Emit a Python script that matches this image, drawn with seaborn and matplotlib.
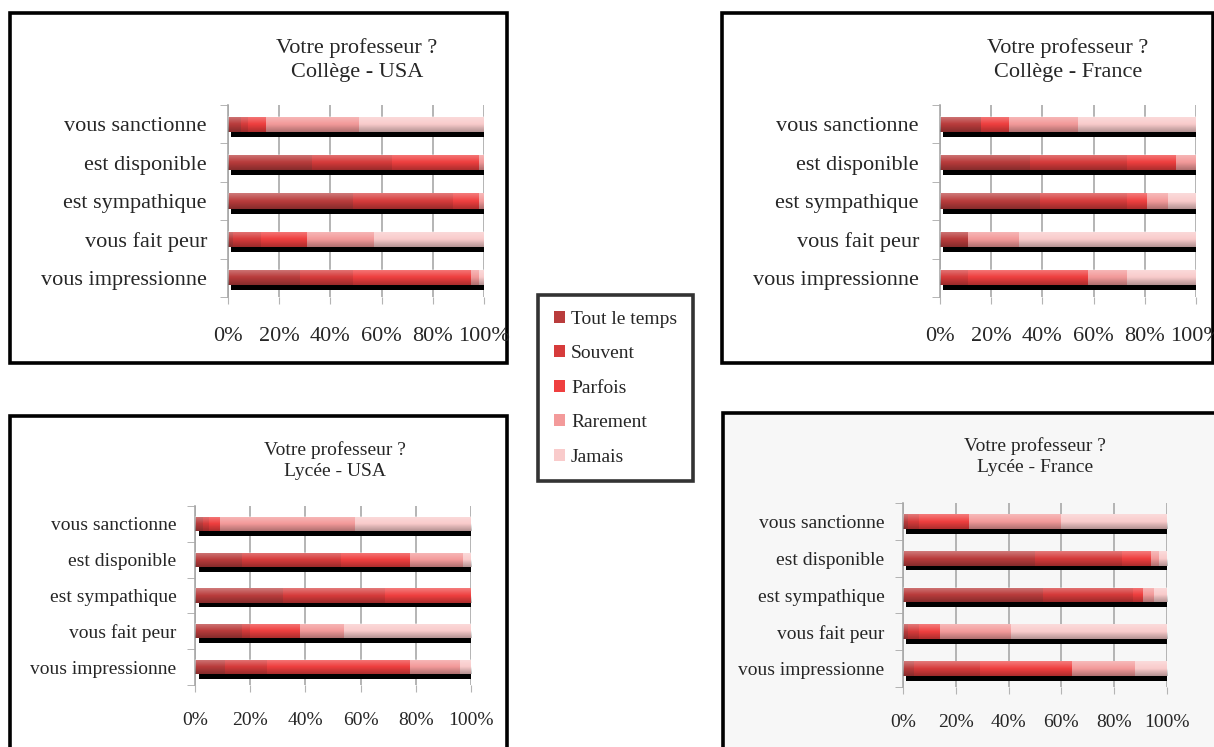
import numpy as np
import pandas as pd
import seaborn as sns
import matplotlib.pyplot as plt
from matplotlib.patches import Rectangle, Patch

W, H = 1214, 747

items = ["vous sanctionne", "est disponible", "est sympathique",
         "vous fait peur", "vous impressionne"]
levels = ["Tout le temps", "Souvent", "Parfois", "Rarement", "Jamais"]
colors = ["#b93c3c", "#d63b3b", "#ef3f3f", "#f39a9a", "#f9cbcb"]

# Collège - USA
cu_tout = [5, 33, 49, 2, 28]
cu_souvent = [3, 31, 39, 11, 21]
cu_parfois = [7, 34, 10, 18, 46]
cu_rarement = [36, 2, 2, 26, 3]
cu_jamais = [49, 0, 0, 43, 2]

# Collège - France
cf_tout = [16, 35, 39, 11, 0]
cf_souvent = [0, 38, 34, 0, 11]
cf_parfois = [11, 19, 8, 0, 47]
cf_rarement = [27, 8, 8, 20, 15]
cf_jamais = [46, 0, 11, 69, 27]

# Lycée - USA
lu_tout = [3, 17, 32, 17, 11]
lu_souvent = [2, 36, 37, 3, 15]
lu_parfois = [4, 25, 31, 18, 52]
lu_rarement = [49, 19, 0, 16, 18]
lu_jamais = [42, 3, 0, 46, 4]

# Lycée - France
lf_tout = [2, 50, 53, 2, 4]
lf_souvent = [4, 33, 34, 4, 25]
lf_parfois = [19, 11, 4, 8, 35]
lf_rarement = [35, 3, 4, 27, 24]
lf_jamais = [40, 3, 5, 59, 12]

sns.set_style("white")
plt.rcParams["font.family"] = ["Liberation Serif", "DejaVu Serif"]


def px_rect(x0, y0, x1, y1):
    return [x0 / W, 1 - y1 / H, (x1 - x0) / W, (y1 - y0) / H]


def frame(x0, y0, x1, y1, face="none"):
    fig.add_artist(Rectangle((x0 / W, 1 - y1 / H), (x1 - x0) / W, (y1 - y0) / H,
                             transform=fig.transFigure, facecolor=face,
                             edgecolor="black", lw=2.6, zorder=0))


def draw_panel(rect, title, tpos, values, fs, bg="white"):
    ax = fig.add_axes(px_rect(*rect))
    ax.set_facecolor(bg)
    df = pd.DataFrame(dict(zip(levels, values)))
    cum = df.cumsum(axis=1)
    cum["item"] = items
    for lev, col in reversed(list(zip(levels, colors))):
        sns.barplot(data=cum, x=lev, y="item", color=col, orient="h", width=0.4,
                    saturation=1, errorbar=None, linewidth=0, ax=ax, zorder=2)
    pos = np.arange(len(items))
    # drop shadow under each bar
    ax.barh(pos + 0.13, 100, left=1.3, height=0.4, color="black", lw=0, zorder=1.5)
    # light-to-dark sheen over each bar
    t = np.linspace(0, 1, 40)
    grad = np.zeros((40, 1, 4))
    grad[t < 0.5, 0, :3] = 1
    grad[:, 0, 3] = np.where(t < 0.5, 0.32 * (1 - 2 * t), 0.28 * (2 * t - 1))
    for p, total in zip(pos, cum["Jamais"]):
        ax.imshow(grad, extent=(0, total, p + 0.2, p - 0.2), origin="upper",
                  aspect="auto", interpolation="bilinear", zorder=3)
    ax.set_xlim(0, 100)
    ax.set_ylim(4.5, -0.5)
    ax.set_xlabel("")
    ax.set_ylabel("")
    ax.set_xticks(range(0, 101, 20))
    ax.set_xticklabels([f"{v}%" for v in range(0, 101, 20)])
    ax.set_yticks(np.arange(-0.5, 5, 1), minor=True)
    ax.xaxis.grid(True, color="#b4b4b4", lw=1.4)
    ax.set_axisbelow(True)
    for s in ["top", "right", "bottom"]:
        ax.spines[s].set_visible(False)
    ax.spines["left"].set_color("#a8a8a8")
    ax.spines["left"].set_linewidth(1.2)
    ax.tick_params(axis="x", length=5, color="#b4b4b4", pad=fs * 1.05,
                   labelsize=fs, bottom=True)
    ax.tick_params(axis="y", which="major", length=0, pad=fs * 0.95, labelsize=fs)
    ax.tick_params(axis="y", which="minor", length=6, color="#a8a8a8", left=True)
    fig.text(tpos[0] / W, 1 - tpos[1] / H, title, ha="center", va="center",
             fontsize=fs, linespacing=1.3)
    return ax


fig = plt.figure(figsize=(W / 100, H / 100), dpi=100)

frame(10, 13, 507, 363)
frame(722, 13, 1213, 363)
frame(10, 416, 507, 760)
frame(723, 413, 1220, 760, face="#f7f7f7")

draw_panel((228, 105, 484, 297), "Votre professeur ?\nCollège - USA", (357, 60),
           [cu_tout, cu_souvent, cu_parfois, cu_rarement, cu_jamais], 16)
draw_panel((940, 105, 1196, 297), "Votre professeur ?\nCollège - France", (1068, 60),
           [cf_tout, cf_souvent, cf_parfois, cf_rarement, cf_jamais], 16)
draw_panel((195, 506, 471, 685), "Votre professeur ?\nLycée - USA", (335, 461),
           [lu_tout, lu_souvent, lu_parfois, lu_rarement, lu_jamais], 14)
draw_panel((903, 503, 1167, 687), "Votre professeur ?\nLycée - France", (1035, 457),
           [lf_tout, lf_souvent, lf_parfois, lf_rarement, lf_jamais], 14,
           bg="#f7f7f7")

handles = [Patch(facecolor=c, edgecolor="none") for c in colors]
leg = fig.legend(handles, levels, loc="upper left",
                 bbox_to_anchor=(538 / W, 1 - 295 / H), bbox_transform=fig.transFigure,
                 fontsize=14, frameon=True, fancybox=False, borderaxespad=0,
                 handlelength=0.6, handleheight=0.6, handletextpad=0.3,
                 labelspacing=0.9, borderpad=0.8)
leg.get_frame().set_edgecolor("black")
leg.get_frame().set_linewidth(2.6)

fig.savefig("out.png", dpi=100)
